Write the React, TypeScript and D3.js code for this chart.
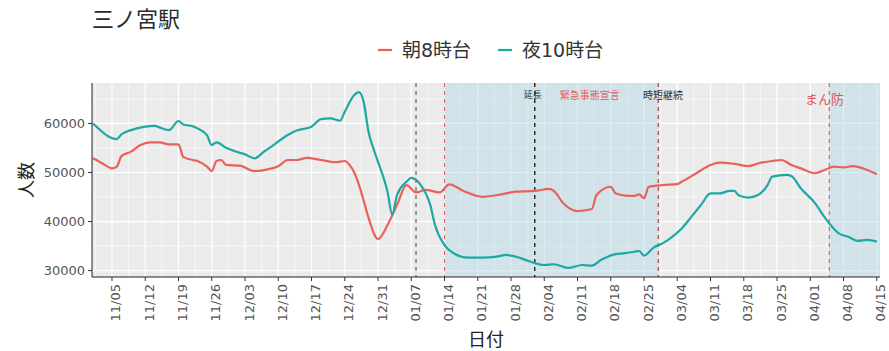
import React from 'react';
import * as d3 from 'd3';

// ---------- data ----------
const seriesNames = ['朝8時台', '夜10時台'];

const morningData: [string, number][] = [
  ['2020-11-01', 52900], ['2020-11-03', 51850], ['2020-11-05', 50850], ['2020-11-06', 51200],
  ['2020-11-07', 53350], ['2020-11-09', 54250], ['2020-11-11', 55600], ['2020-11-13', 56150],
  ['2020-11-15', 56150], ['2020-11-17', 55750], ['2020-11-19', 55750], ['2020-11-20', 53200],
  ['2020-11-22', 52550], ['2020-11-23', 52350], ['2020-11-25', 51200], ['2020-11-26', 50300],
  ['2020-11-27', 52350], ['2020-11-28', 52550], ['2020-11-29', 51550], ['2020-12-02', 51400],
  ['2020-12-03', 51000], ['2020-12-05', 50300], ['2020-12-08', 50700], ['2020-12-10', 51300],
  ['2020-12-12', 52550], ['2020-12-14', 52550], ['2020-12-16', 53000], ['2020-12-19', 52550],
  ['2020-12-22', 52100], ['2020-12-24', 52350], ['2020-12-25', 51550], ['2020-12-26', 50000],
  ['2020-12-27', 47500], ['2020-12-28', 44200], ['2020-12-29', 40800], ['2020-12-31', 36450],
  ['2021-01-02', 39300], ['2021-01-04', 43400], ['2021-01-06', 47450], ['2021-01-08', 45950],
  ['2021-01-10', 46450], ['2021-01-13', 45950], ['2021-01-15', 47600], ['2021-01-18', 46250],
  ['2021-01-22', 45050], ['2021-01-26', 45550], ['2021-01-29', 46100], ['2021-02-02', 46250],
  ['2021-02-05', 46650], ['2021-02-06', 46250], ['2021-02-08', 43750], ['2021-02-11', 42150],
  ['2021-02-14', 42550], ['2021-02-15', 45400], ['2021-02-18', 47100], ['2021-02-19', 45750],
  ['2021-02-21', 45300], ['2021-02-23', 45250], ['2021-02-24', 45550], ['2021-02-25', 44750],
  ['2021-02-26', 47100], ['2021-03-01', 47450], ['2021-03-04', 47650], ['2021-03-05', 48150],
  ['2021-03-08', 49850], ['2021-03-11', 51550], ['2021-03-13', 52000], ['2021-03-16', 51750],
  ['2021-03-19', 51300], ['2021-03-21', 51850], ['2021-03-24', 52350], ['2021-03-26', 52550],
  ['2021-03-28', 51550], ['2021-03-30', 50850], ['2021-04-02', 49850], ['2021-04-04', 50500],
  ['2021-04-06', 51200], ['2021-04-08', 51050], ['2021-04-10', 51300], ['2021-04-13', 50500],
  ['2021-04-15', 49650],
];

const nightData: [string, number][] = [
  ['2020-11-01', 60000], ['2020-11-02', 59100], ['2020-11-04', 57500], ['2020-11-06', 56800],
  ['2020-11-07', 57800], ['2020-11-09', 58650], ['2020-11-12', 59350], ['2020-11-14', 59500],
  ['2020-11-15', 59200], ['2020-11-17', 58650], ['2020-11-19', 60500], ['2020-11-20', 59800],
  ['2020-11-22', 59450], ['2020-11-23', 59000], ['2020-11-25', 57600], ['2020-11-26', 55600],
  ['2020-11-27', 56150], ['2020-11-29', 55050], ['2020-12-01', 54300], ['2020-12-03', 53700],
  ['2020-12-05', 52900], ['2020-12-07', 54250], ['2020-12-09', 55600], ['2020-12-12', 57650],
  ['2020-12-14', 58600], ['2020-12-17', 59350], ['2020-12-19', 60900], ['2020-12-21', 61050],
  ['2020-12-23', 60550], ['2020-12-24', 62400], ['2020-12-26', 65800], ['2020-12-27', 66400],
  ['2020-12-28', 64300], ['2020-12-29', 58300], ['2020-12-30', 55000], ['2020-12-31', 52200],
  ['2021-01-02', 46100], ['2021-01-03', 41400], ['2021-01-04', 45400], ['2021-01-06', 48100],
  ['2021-01-07', 48900], ['2021-01-09', 47450], ['2021-01-11', 43400], ['2021-01-12', 39300],
  ['2021-01-14', 35200], ['2021-01-16', 33500], ['2021-01-19', 32650], ['2021-01-22', 32650],
  ['2021-01-25', 32850], ['2021-01-27', 33200], ['2021-01-30', 32550], ['2021-02-01', 31850],
  ['2021-02-04', 31150], ['2021-02-06', 31300], ['2021-02-09', 30550], ['2021-02-12', 31150],
  ['2021-02-14', 31000], ['2021-02-16', 32200], ['2021-02-19', 33350], ['2021-02-21', 33550],
  ['2021-02-23', 33850], ['2021-02-24', 34000], ['2021-02-25', 33050], ['2021-02-27', 34700],
  ['2021-03-01', 35600], ['2021-03-03', 36950], ['2021-03-05', 38650], ['2021-03-07', 41000],
  ['2021-03-09', 43400], ['2021-03-11', 45750], ['2021-03-13', 45750], ['2021-03-15', 46250],
  ['2021-03-16', 46250], ['2021-03-17', 45300], ['2021-03-19', 44900], ['2021-03-21', 45400],
  ['2021-03-23', 47450], ['2021-03-24', 49150], ['2021-03-27', 49500], ['2021-03-28', 49300],
  ['2021-03-30', 46800], ['2021-04-02', 43750], ['2021-04-04', 40900], ['2021-04-07', 37600],
  ['2021-04-09', 36900], ['2021-04-11', 36050], ['2021-04-13', 36250], ['2021-04-15', 35900],
];

const xTickDates = [
  '2020-11-05', '2020-11-12', '2020-11-19', '2020-11-26', '2020-12-03', '2020-12-10',
  '2020-12-17', '2020-12-24', '2020-12-31', '2021-01-07', '2021-01-14', '2021-01-21',
  '2021-01-28', '2021-02-04', '2021-02-11', '2021-02-18', '2021-02-25', '2021-03-04',
  '2021-03-11', '2021-03-18', '2021-03-25', '2021-04-01', '2021-04-08', '2021-04-15',
];
const yTicks = [30000, 40000, 50000, 60000];
const yMinorTicks = [35000, 45000, 55000, 65000];

const shadedStarts = ['2021-01-14', '2021-04-05'];
const shadedEnds = ['2021-02-28', '2021-04-30'];

const eventDates = ['2021-01-08', '2021-01-14', '2021-02-02', '2021-02-28', '2021-04-05'];

const annotationLabels = ['延長', '緊急事態宣言', '時短継続', 'まん防'];
const annotationDates = ['2021-02-02', '2021-02-14', '2021-03-01', '2021-04-04'];
const annotationValues = [66000, 66000, 66000, 65000];

const titleText = '三ノ宮駅';
const xTitle = '日付';
const yTitle = '人数';

// ---------- styles / layout ----------
const W = 889;
const H = 351;
const P = { left: 92, right: 880, top: 83, bottom: 277 };
const seriesColors = ['#E8625A', '#1EA8A4'];
const eventColors = ['#444444', '#E0575A', '#222222', '#A84545', '#C25A5A'];
const eventWidths = [1, 1, 1.4, 1.2, 1];
const annotationColors = ['#333333', '#E8555A', '#333333', '#E8555A'];
const annotationSizes = [9, 10, 10, 13];
const annotationDx = [-2, -2, 0, 0];
const FONT = "'DejaVu Sans', 'Noto Sans CJK JP', sans-serif";
const JFONT = "'Noto Sans CJK JP', sans-serif";

const parse = d3.timeParse('%Y-%m-%d');
const fmt = d3.timeFormat('%m/%d');
const DAY = 864e5;

export default function App() {
  const ref5 = parse('2020-11-05')!.getTime();
  const x = d3
    .scaleTime()
    .domain([new Date(ref5 - 4.21 * DAY), new Date(ref5 + 161.68 * DAY)])
    .range([P.left, P.right]);
  const y = d3.scaleLinear().domain([28700, 68250]).range([P.bottom, P.top]);

  const line = d3
    .line<[string, number]>()
    .x((d) => x(parse(d[0])!))
    .y((d) => y(d[1]))
    .curve(d3.curveMonotoneX);

  const tickDates = xTickDates.map((s) => parse(s)!);
  const minorX: Date[] = [];
  minorX.push(new Date(tickDates[0].getTime() - 3.5 * DAY));
  for (let i = 0; i < tickDates.length - 1; i++) {
    minorX.push(new Date((tickDates[i].getTime() + tickDates[i + 1].getTime()) / 2));
  }

  const series = [morningData, nightData];

  return (
    <svg
      width={W}
      height={H}
      style={{ position: 'absolute', left: 0, top: 0, background: '#fff' }}
      fontFamily={FONT}
    >
      <defs>
        <clipPath id="panel">
          <rect x={P.left} y={P.top} width={P.right - P.left} height={P.bottom - P.top} />
        </clipPath>
      </defs>
      <rect width={W} height={H} fill="#fff" />

      {/* title */}
      <text x={92} y={27} fontSize={22} fill="#2a2a2a" fontFamily={JFONT}>
        {titleText}
      </text>

      {/* legend */}
      {seriesNames.map((name, i) => {
        const lx = i === 0 ? 378 : 498;
        return (
          <g key={name}>
            <line x1={lx} x2={lx + 14} y1={50} y2={50} stroke={seriesColors[i]} strokeWidth={2.2} />
            <text x={lx + 24} y={57} fontSize={19} fill="#333">
              {name}
            </text>
          </g>
        );
      })}

      {/* panel */}
      <rect x={P.left} y={P.top} width={P.right - P.left} height={P.bottom - P.top} fill="#EBEBEB" />
      <g clipPath="url(#panel)">
        {yMinorTicks.map((v) => (
          <line key={'ym' + v} x1={P.left} x2={P.right} y1={y(v)} y2={y(v)} stroke="#fff" strokeWidth={0.6} />
        ))}
        {minorX.map((d, i) => (
          <line key={'xm' + i} x1={x(d)} x2={x(d)} y1={P.top} y2={P.bottom} stroke="#fff" strokeWidth={0.6} />
        ))}
        {yTicks.map((v) => (
          <line key={'y' + v} x1={P.left} x2={P.right} y1={y(v)} y2={y(v)} stroke="#fff" strokeWidth={1.2} />
        ))}
        {tickDates.map((d, i) => (
          <line key={'x' + i} x1={x(d)} x2={x(d)} y1={P.top} y2={P.bottom} stroke="#fff" strokeWidth={1.2} />
        ))}

        {shadedStarts.map((s, i) => {
          const x0 = x(parse(s)!);
          const x1 = x(parse(shadedEnds[i])!);
          return (
            <rect
              key={'sh' + i}
              x={x0}
              y={P.top}
              width={x1 - x0}
              height={P.bottom - P.top}
              fill="#ADD8E6"
              opacity={0.42}
            />
          );
        })}

        {eventDates.map((s, i) => {
          const xx = x(parse(s)!);
          return (
            <line
              key={'ev' + i}
              x1={xx}
              x2={xx}
              y1={P.top}
              y2={P.bottom}
              stroke={eventColors[i]}
              strokeWidth={eventWidths[i]}
              strokeDasharray="4,4"
            />
          );
        })}

        {series.map((data, i) => (
          <path
            key={'s' + i}
            d={line(data) || ''}
            fill="none"
            stroke={seriesColors[i]}
            strokeWidth={2.2}
            strokeLinejoin="round"
          />
        ))}

        {annotationLabels.map((lab, i) => (
          <text
            key={'an' + i}
            x={x(parse(annotationDates[i])!) + annotationDx[i]}
            y={y(annotationValues[i])}
            fontSize={annotationSizes[i]}
            fill={annotationColors[i]}
            textAnchor="middle"
            dominantBaseline="central"
            fontFamily={JFONT}
          >
            {lab}
          </text>
        ))}
      </g>

      {/* axes */}
      <line x1={P.left} x2={P.left} y1={P.top} y2={P.bottom} stroke="#222" strokeWidth={1} />
      <line x1={P.left} x2={P.right} y1={P.bottom} y2={P.bottom} stroke="#222" strokeWidth={1} />
      {yTicks.map((v) => (
        <g key={'yt' + v}>
          <line x1={P.left - 4} x2={P.left} y1={y(v)} y2={y(v)} stroke="#333" />
          <text
            x={P.left - 7}
            y={y(v)}
            fontSize={13}
            fill="#555"
            textAnchor="end"
            dominantBaseline="central"
          >
            {v}
          </text>
        </g>
      ))}
      {tickDates.map((d, i) => {
        const xx = x(d);
        return (
          <g key={'xt' + i}>
            <line x1={xx} x2={xx} y1={P.bottom} y2={P.bottom + 4} stroke="#333" />
            <text
              transform={`translate(${xx + 4},${P.bottom + 7}) rotate(-90)`}
              fontSize={13}
              fill="#555"
              textAnchor="end"
              dominantBaseline="central"
            >
              {fmt(d)}
            </text>
          </g>
        );
      })}

      {/* axis titles */}
      <text x={(P.left + P.right) / 2} y={346} fontSize={18} fill="#222" textAnchor="middle" fontFamily={JFONT}>
        {xTitle}
      </text>
      <text
        transform={`translate(33,${(P.top + P.bottom) / 2}) rotate(-90)`}
        fontSize={18}
        fill="#222"
        textAnchor="middle"
        fontFamily={JFONT}
      >
        {yTitle}
      </text>
    </svg>
  );
}
